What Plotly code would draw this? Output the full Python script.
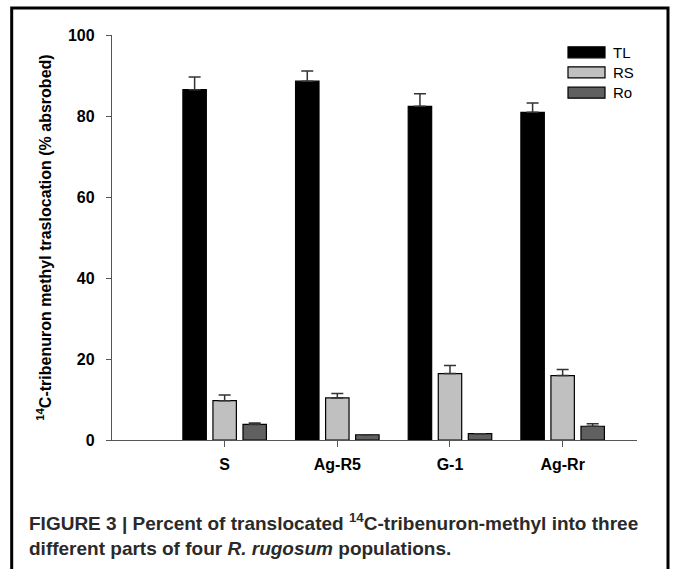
import plotly.graph_objects as go

categories = ["S", "Ag-R5", "G-1", "Ag-Rr"]
series_names = ["TL", "RS", "Ro"]
tl_values = [86.5, 88.6, 82.4, 80.9]
tl_errors = [3.1, 2.5, 3.1, 2.3]
rs_values = [9.7, 10.4, 16.4, 15.9]
rs_errors = [1.4, 1.1, 2.0, 1.5]
ro_values = [3.85, 1.3, 1.55, 3.4]
ro_errors = [0.35, 0.0, 0.0, 0.6]
y_ticks = [0, 20, 40, 60, 80, 100]

colors = ["#000000", "#c0c0c0", "#606060"]
values = [tl_values, rs_values, ro_values]
errors = [tl_errors, rs_errors, ro_errors]

FONT = "Liberation Sans, Arial, sans-serif"

fig = go.Figure()
for name, vals, errs, col in zip(series_names, values, errors, colors):
    fig.add_trace(go.Bar(
        name=name, x=categories, y=vals,
        marker=dict(color=col, line=dict(color="#000000", width=1.2)),
        error_y=dict(type="data", array=errs, arrayminus=[0] * len(errs),
                     symmetric=False, color="#333333", thickness=1.5, width=6),
        showlegend=False,
    ))

# plot-area geometry
L, R, T, B = 112, 36, 35, 129
W, H = 673, 569
pw, ph = W - L - R, H - T - B

def px(x):
    return (x - L) / pw

def py(y):
    return (H - B - y) / ph

shapes = []
annotations = []
# legend (custom, wide boxes)
leg_rows = [52.3, 72.3, 92.7]
for name, col, yc in zip(series_names, colors, leg_rows):
    shapes.append(dict(type="rect", xref="paper", yref="paper",
                       x0=px(568), x1=px(605), y0=py(yc + 5.5), y1=py(yc - 5.5),
                       fillcolor=col, line=dict(color="#000000", width=1.2)))
    annotations.append(dict(xref="paper", yref="paper", x=px(611), y=py(yc),
                            text=name, showarrow=False, xanchor="left", yanchor="middle",
                            font=dict(family=FONT, size=15, color="#000000")))

# outer frame
shapes.append(dict(type="rect", xref="paper", yref="paper",
                   x0=px(11.7), x1=px(668), y0=py(580), y1=py(8),
                   line=dict(color="#000000", width=3), fillcolor="rgba(0,0,0,0)", layer="above"))

# caption
annotations.append(dict(xref="paper", yref="paper", x=px(27), y=py(508), xanchor="left", yanchor="top",
                        align="left", showarrow=False,
                        text="FIGURE 3 | Percent of translocated <sup>14</sup>C-tribenuron-methyl into three<br>"
                             "different parts of four <i>R. rugosum</i> populations.",
                        font=dict(family=FONT, size=19, color="#2a2a2a", weight="bold")))

fig.update_layout(
    width=W, height=H,
    margin=dict(l=L, r=R, t=T, b=B, autoexpand=False),
    paper_bgcolor="white", plot_bgcolor="white",
    barmode="group", bargap=0.2, bargroupgap=0.22,
    shapes=shapes, annotations=annotations,
    font=dict(family=FONT, color="#000000"),
)
fig.update_xaxes(
    range=[-1.0, 3.66], showline=True, linecolor="#555555", linewidth=1.3,
    ticks="outside", ticklen=6, tickcolor="#555555", tickwidth=1.3,
    showgrid=False, zeroline=False, ticklabelstandoff=4,
    tickfont=dict(family=FONT, size=16, color="#000000", weight="bold"),
)
fig.update_yaxes(
    range=[0, 100], tickvals=y_ticks, showline=True, linecolor="#555555", linewidth=1.3,
    ticks="outside", ticklen=5, tickcolor="#555555", tickwidth=1.3,
    showgrid=False, zeroline=False, ticklabelstandoff=8,
    tickfont=dict(family=FONT, size=16, color="#000000", weight="bold"),
    title=dict(text="<sup>14</sup>C-tribenuron methyl traslocation (% absrobed)",
               font=dict(family=FONT, size=16, color="#000000", weight="bold"), standoff=12),
)

fig.write_html("out.html")
